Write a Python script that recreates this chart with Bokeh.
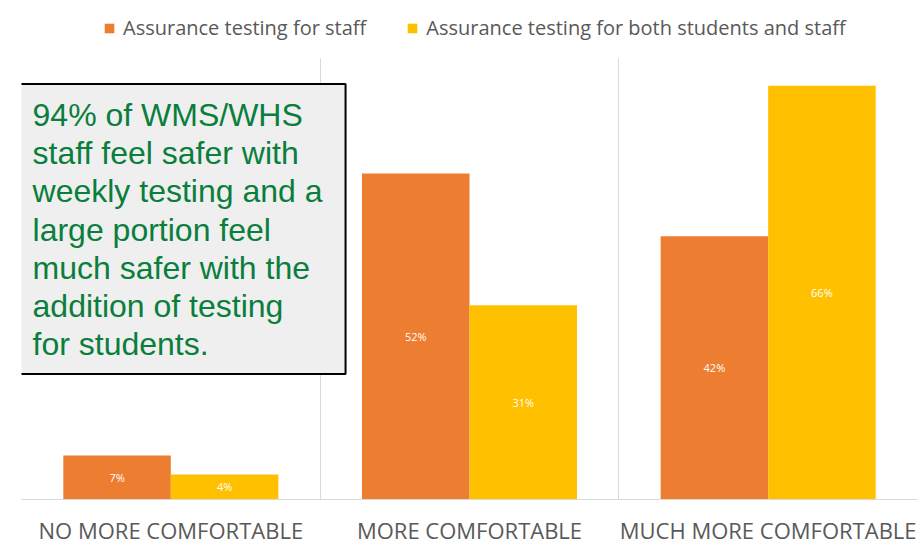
import numpy as np
from bokeh.plotting import figure
from bokeh.models import (FactorRange, Range1d, FixedTicker, ColumnDataSource, LabelSet,
                          Legend, LegendItem, BoxAnnotation, Label)
from bokeh.transform import dodge
from bokeh.embed import file_html
from bokeh.resources import INLINE
from bokeh.core.properties import value

categories = ["NO MORE COMFORTABLE", "MORE COMFORTABLE", "MUCH MORE COMFORTABLE"]
staff = [7, 52, 42]
both = [4, 31, 66]
series_names = ["Assurance testing for staff", "Assurance testing for both students and staff"]
colors = ["#ED7D31", "#FFC000"]
note = ("94% of WMS/WHS\nstaff feel safer with\nweekly testing and a\nlarge portion feel\n"
        "much safer with the\naddition of testing\nfor students.")

y_max = 70.4        # top of the value area
y_top = 79.6        # extra room above it for the legend

def make_src(vals):
    return ColumnDataSource(dict(cat=categories, top=vals, mid=[v / 2 for v in vals],
                                 lab=[f"{v}%" for v in vals]))

src_staff = make_src(staff)
src_both = make_src(both)

p = figure(width=922, height=547, x_range=FactorRange(*categories, range_padding=0, factor_padding=0),
           y_range=Range1d(0, y_top), output_backend="svg", toolbar_location=None,
           y_axis_location=None, min_border_left=21, min_border_right=5,
           min_border_top=0, min_border_bottom=46)
p.outline_line_color = None
p.background_fill_color = "white"
p.ygrid.visible = False
p.xgrid.ticker = FixedTicker(ticks=[0, 1, 2, 3])
p.xgrid.grid_line_color = "#D9D9D9"
p.xgrid.grid_line_width = 1

off = 0.18
r1 = p.vbar(x=dodge("cat", -off, range=p.x_range), top="top", width=0.36, source=src_staff,
            fill_color=colors[0], line_color=None)
r2 = p.vbar(x=dodge("cat", off, range=p.x_range), top="top", width=0.36, source=src_both,
            fill_color=colors[1], line_color=None)

for src, o in ((src_staff, -off), (src_both, off)):
    p.add_layout(LabelSet(x=dodge("cat", o, range=p.x_range), y="mid", text="lab", source=src,
                          text_color="white", text_font_size="11px", text_font=value("Open Sans"),
                          text_align="center", text_baseline="middle"))

ax = p.xaxis[0]
ax.major_tick_line_color = None
ax.minor_tick_line_color = None
ax.axis_line_color = "#D9D9D9"
ax.major_label_text_font = "Open Sans"
ax.major_label_text_font_size = "22px"
ax.major_label_text_color = "#595959"
ax.major_label_standoff = 9

# white band above the value area so the category separators stop below the legend
p.add_layout(BoxAnnotation(bottom=y_max, fill_color="white", fill_alpha=1, line_color=None))

legend = Legend(items=[LegendItem(label=series_names[0], renderers=[r1]),
                       LegendItem(label=series_names[1], renderers=[r2])],
                orientation="horizontal", location=(82, 458), padding=0, margin=0,
                spacing=40, glyph_width=12, glyph_height=12, label_standoff=8,
                label_text_font="Open Sans", label_text_font_size="20px",
                label_text_color="#595959", border_line_color=None,
                background_fill_alpha=0)
p.add_layout(legend)

box = BoxAnnotation(left=-0.03, right=1.085, bottom=20.0, top=66.3, fill_color="#EFEFEF",
                    fill_alpha=1, line_color="black", line_alpha=1, line_width=2)
p.add_layout(box)
p.add_layout(Label(x=0.037, y=64.2, text=note, text_font="Liberation Sans", text_font_size="32px",
                   text_color="#0A7E3C", text_baseline="top", text_align="left",
                   text_line_height=1.06))

open("out.html", "w").write(file_html(p, INLINE))
